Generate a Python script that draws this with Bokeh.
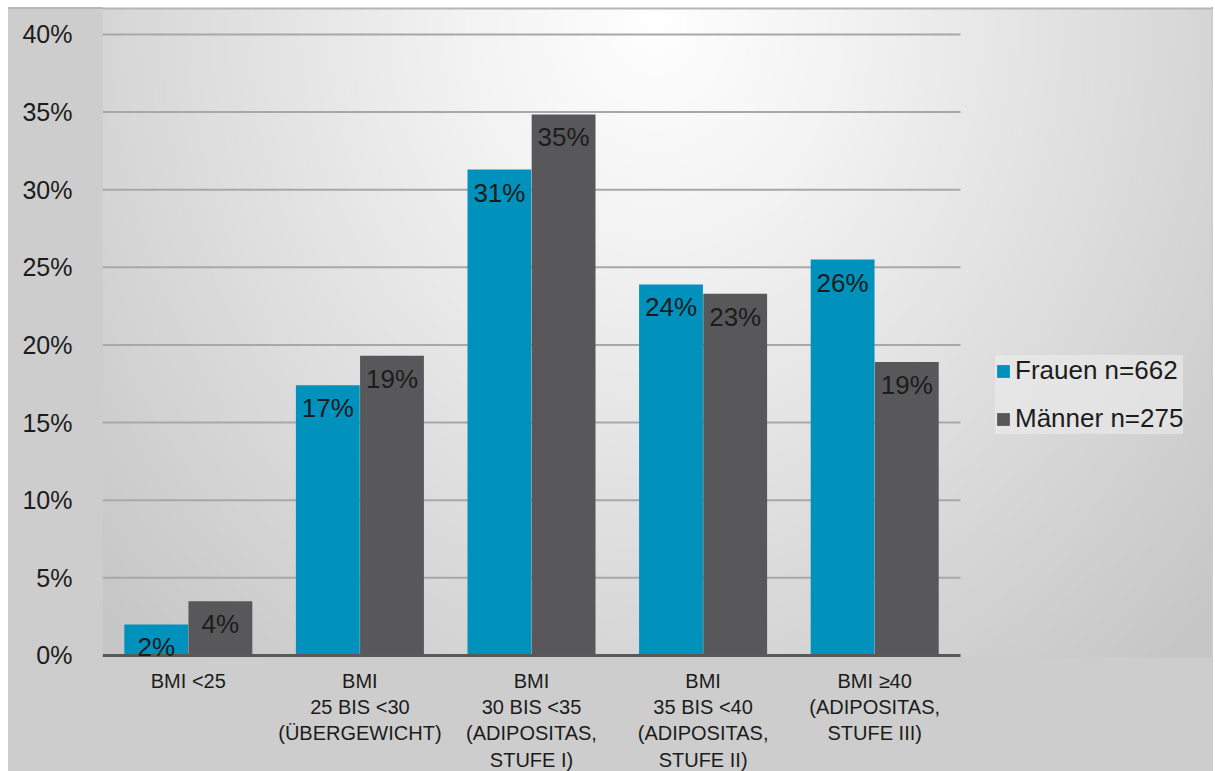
import numpy as np
from bokeh.plotting import figure
from bokeh.models import (ColumnDataSource, Range1d, FixedTicker,
                          PrintfTickFormatter, Legend, LegendItem)
from bokeh.core.properties import value
from bokeh.embed import file_html
from bokeh.resources import INLINE

# ---- data ----
categories = [
    "BMI <25",
    "BMI\n25 BIS <30\n(ÜBERGEWICHT)",
    "BMI\n30 BIS <35\n(ADIPOSITAS,\nSTUFE I)",
    "BMI\n35 BIS <40\n(ADIPOSITAS,\nSTUFE II)",
    "BMI ≥40\n(ADIPOSITAS,\nSTUFE III)",
]
frauen = [2.0, 17.4, 31.3, 23.9, 25.5]
maenner = [3.5, 19.3, 34.85, 23.3, 18.9]
frauen_labels = ["2%", "17%", "31%", "24%", "26%"]
maenner_labels = ["4%", "19%", "35%", "23%", "19%"]
series_names = ["Frauen n=662", "Männer n=275"]
y_ticks = [0, 5, 10, 15, 20, 25, 30, 35, 40]

FONT = "Liberation Sans"
C_F = "#0091BC"
C_M = "#58585A"
TXT = "#1c1c1c"

n = len(categories)
idx = list(range(n))
OFF, BW = 0.187, 0.372
CAT_PX = 171.6            # pixel width of one category slot
PLOT_PX = CAT_PX * n      # width of the bar area
FRAME_W = 1109            # frame also holds the legend on the right
FRAME_H = 657
LEFT = 102
x_lo = -0.5
x_hi = x_lo + FRAME_W / CAT_PX
y_lo, y_hi = -0.13, 42.19

src = ColumnDataSource(dict(xf=[i - OFF for i in idx], xm=[i + OFF for i in idx],
                            f=frauen, m=maenner, fl=frauen_labels, ml=maenner_labels))

p = figure(x_range=Range1d(x_lo, x_hi), y_range=Range1d(y_lo, y_hi),
           frame_width=FRAME_W, frame_height=FRAME_H, output_backend="svg",
           toolbar_location=None,
           min_border_left=LEFT, min_border_right=2, min_border_top=0,
           min_border_bottom=112)

p.background_fill_color = None
p.border_fill_color = None
p.outline_line_color = None
p.styles = {
    "background": ("linear-gradient(#ffffff, #ffffff) 0px 0px / 8px 100% no-repeat, "
                   "linear-gradient(#ffffff, #ffffff) 0px 0px / 100% 7px no-repeat, "
                   "linear-gradient(#b6b6b6, #b6b6b6) 8px 7px / 100% 2px no-repeat, "
                   "#cdcdcd"),
}

# ---- radial background shading of the frame (styling only) ----
sx = 3
gw = int(np.ceil(FRAME_W / sx))
gh = FRAME_H
xs = (np.arange(gw) + 0.5) * (FRAME_W / gw) + LEFT
ys = np.arange(gh) + 0.5
X, Y = np.meshgrid(xs, ys)
r = np.sqrt(((X - 655) / 760.0) ** 2 + ((Y - 20) / 880.0) ** 2)
g = np.interp(r, [0, 0.25, 0.6, 1.0], [255, 243, 222, 198])
g[Y < 7] = 255
g[(Y >= 7) & (Y < 9)] = 182
rgba = np.zeros((gh, gw, 4), dtype=np.uint8)
gi = np.clip(g, 0, 255).astype(np.uint8)
rgba[..., 0] = gi
rgba[..., 1] = gi
rgba[..., 2] = gi
rgba[..., 3] = 255
bg_img = np.ascontiguousarray(rgba[::-1]).view(dtype=np.uint32).reshape(gh, gw)
p.image_rgba(image=[bg_img], x=x_lo, y=y_lo, dw=x_hi - x_lo, dh=y_hi - y_lo)

# grid lines limited to the bar area
grid_y = [t for t in y_ticks if t > 0]
p.segment(x0=[x_lo] * len(grid_y), y0=grid_y, x1=[x_lo + n] * len(grid_y), y1=grid_y,
          line_color="#a8a8a8", line_width=2)

rf = p.vbar(x="xf", top="f", width=BW, source=src, fill_color=C_F, line_color=None)
rm = p.vbar(x="xm", top="m", width=BW, source=src, fill_color=C_M, line_color=None)

# baseline limited to the bar area
p.segment(x0=[x_lo], y0=[0], x1=[x_lo + n], y1=[0], line_color="#595959", line_width=3)

p.text(x="xf", y="f", text="fl", source=src,
       text_align="center", text_baseline="top", y_offset=8,
       text_font=value(FONT), text_font_size="26px", text_color=TXT)
p.text(x="xm", y="m", text="ml", source=src,
       text_align="center", text_baseline="top", y_offset=8,
       text_font=value(FONT), text_font_size="26px", text_color=TXT)

p.xgrid.grid_line_color = None
p.ygrid.grid_line_color = None

# y axis
p.yaxis.ticker = FixedTicker(ticks=y_ticks)
p.yaxis.formatter = PrintfTickFormatter(format="%d%%")
p.yaxis.axis_line_color = None
p.yaxis.major_tick_line_color = None
p.yaxis.minor_tick_line_color = None
p.yaxis.major_label_text_font = FONT
p.yaxis.major_label_text_font_size = "25px"
p.yaxis.major_label_text_color = TXT
p.yaxis.major_label_standoff = 24

# x axis (category labels)
p.xaxis.ticker = FixedTicker(ticks=idx)
p.xaxis.major_label_overrides = {i: categories[i] for i in idx}
p.xaxis.axis_line_color = None
p.xaxis.major_tick_line_color = None
p.xaxis.minor_tick_line_color = None
p.xaxis.major_label_text_font = FONT
p.xaxis.major_label_text_font_size = "20px"
p.xaxis.major_label_text_color = TXT
p.xaxis.major_label_standoff = 6

legend = Legend(items=[LegendItem(label=series_names[0], renderers=[rf]),
                       LegendItem(label=series_names[1], renderers=[rm])],
                location=(PLOT_PX + 35, 223), label_text_font=FONT,
                label_text_font_size="26px",
                label_text_color=TXT, glyph_width=16, glyph_height=16,
                label_standoff=4, spacing=17, padding=13, margin=0,
                background_fill_color="#ececec", background_fill_alpha=0.6,
                border_line_color=None)
p.add_layout(legend, "center")

open("out.html", "w").write(file_html(p, INLINE))
